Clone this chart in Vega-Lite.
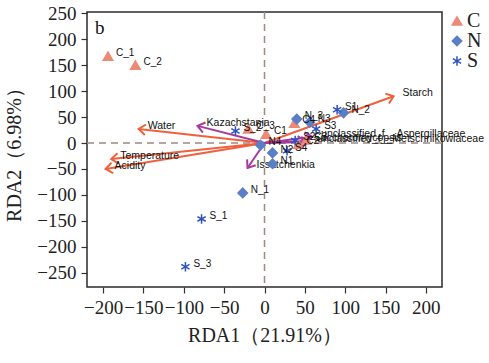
{
  "$schema": "https://vega.github.io/schema/vega-lite/v6.json",
  "width": 355,
  "height": 275,
  "autosize": {"type": "none"},
  "padding": {"left": 87, "top": 12, "right": 47, "bottom": 76},
  "background": "white",
  "title": {
    "text": "b",
    "anchor": "start",
    "frame": "group",
    "orient": "top",
    "offset": -34,
    "dx": 8,
    "font": "Liberation Serif",
    "fontSize": 19,
    "fontWeight": "normal",
    "color": "#111"
  },
  "datasets": {
    "samples": [
      {"name": "C_1", "group": "C", "x": -194, "y": 167},
      {"name": "C_2", "group": "C", "x": -160, "y": 150},
      {"name": "C_3", "group": "C", "x": -20, "y": 27},
      {"name": "C1", "group": "C", "x": 2, "y": 17},
      {"name": "C4", "group": "C", "x": 37, "y": 38},
      {"name": "C2", "group": "C", "x": 42, "y": -2},
      {"name": "C3", "group": "C", "x": 52, "y": 6},
      {"name": "N_1", "group": "N", "x": -27, "y": -96},
      {"name": "N_2", "group": "N", "x": 98, "y": 58},
      {"name": "N_3", "group": "N", "x": 40, "y": 46},
      {"name": "N3", "group": "N", "x": 56, "y": 40},
      {"name": "N4", "group": "N", "x": -5, "y": -4},
      {"name": "N1", "group": "N", "x": 10, "y": -40},
      {"name": "N2", "group": "N", "x": 10, "y": -19},
      {"name": "S_1", "group": "S", "x": -78, "y": -146},
      {"name": "S_3", "group": "S", "x": -98, "y": -238},
      {"name": "S_2", "group": "S", "x": -36, "y": 23},
      {"name": "S1", "group": "S", "x": 90, "y": 64},
      {"name": "S3", "group": "S", "x": 64, "y": 27},
      {"name": "S4", "group": "S", "x": 28, "y": -15},
      {"name": "S2", "group": "S", "x": 38, "y": 5}
    ],
    "vectors": [
      {"name": "Water", "kind": "env", "x": -156, "y": 27},
      {"name": "Temperature", "kind": "env", "x": -190, "y": -31},
      {"name": "Acidity", "kind": "env", "x": -197, "y": -50},
      {"name": "Starch", "kind": "env", "x": 160, "y": 90},
      {"name": "Kazachstania", "kind": "species", "x": -83, "y": 33},
      {"name": "Issatchenkia", "kind": "species", "x": -21, "y": -48},
      {"name": "unclassified_f__Aspergillaceae", "kind": "species", "x": 59, "y": 12},
      {"name": "Saccharomycopsis", "kind": "species", "x": 50, "y": 4},
      {"name": "unclassified_f__Metschnikowiaceae", "kind": "species", "x": 54, "y": 2}
    ]
  },
  "layer": [
    {
      "data": {"values": [{}]},
      "mark": {"type": "rule", "color": "#9c8a84", "strokeDash": [7, 5], "strokeWidth": 1.5},
      "encoding": {"x": {"datum": 0, "type": "quantitative"}}
    },
    {
      "data": {"values": [{}]},
      "mark": {"type": "rule", "color": "#9c8a84", "strokeDash": [7, 5], "strokeWidth": 1.5},
      "encoding": {"y": {"datum": 0, "type": "quantitative"}}
    },
    {
      "data": {"name": "vectors"},
      "transform": [{"filter": "datum.kind == 'env'"}],
      "mark": {"type": "rule", "strokeWidth": 2, "color": "#f0603c"},
      "encoding": {
        "x": {"field": "x", "type": "quantitative"},
        "y": {"field": "y", "type": "quantitative"},
        "x2": {"datum": 0},
        "y2": {"datum": 0}
      }
    },
    {
      "data": {"name": "vectors"},
      "transform": [{"filter": "datum.kind == 'species'"}],
      "mark": {"type": "rule", "strokeWidth": 2, "color": "#a63a9e"},
      "encoding": {
        "x": {"field": "x", "type": "quantitative"},
        "y": {"field": "y", "type": "quantitative"},
        "x2": {"datum": 0},
        "y2": {"datum": 0}
      }
    },
    {
      "data": {"name": "vectors"},
      "transform": [
        {"filter": "datum.kind == 'env'"},
        {"calculate": "atan2(datum.x*0.807, datum.y*0.52)*180/PI", "as": "ang"}
      ],
      "mark": {"type": "point", "shape": "M-0.65,0.85L0,0L0.65,0.85", "filled": false, "strokeWidth": 2, "size": 260, "stroke": "#f0603c", "opacity": 1},
      "encoding": {
        "x": {"field": "x", "type": "quantitative"},
        "y": {"field": "y", "type": "quantitative"},
        "angle": {"field": "ang", "type": "quantitative", "scale": null}
      }
    },
    {
      "data": {"name": "vectors"},
      "transform": [
        {"filter": "datum.kind == 'species'"},
        {"calculate": "atan2(datum.x*0.807, datum.y*0.52)*180/PI", "as": "ang"}
      ],
      "mark": {"type": "point", "shape": "M-0.65,0.85L0,0L0.65,0.85", "filled": false, "strokeWidth": 2, "size": 260, "stroke": "#a63a9e", "opacity": 1},
      "encoding": {
        "x": {"field": "x", "type": "quantitative"},
        "y": {"field": "y", "type": "quantitative"},
        "angle": {"field": "ang", "type": "quantitative", "scale": null}
      }
    },
    {
      "data": {"name": "vectors"},
      "mark": {"type": "text", "font": "Liberation Sans", "fontSize": 10.5, "align": "left", "baseline": "middle", "dx": 9, "dy": -3, "color": "#111"},
      "encoding": {
        "x": {"field": "x", "type": "quantitative"},
        "y": {"field": "y", "type": "quantitative"},
        "text": {"field": "name"}
      }
    },
    {
      "data": {"name": "samples"},
      "mark": {"type": "point", "filled": true, "opacity": 1, "strokeWidth": 1.5, "size": 90},
      "encoding": {
        "x": {
          "field": "x", "type": "quantitative",
          "scale": {"domain": [-220, 220], "nice": false, "zero": false},
          "axis": {"title": "RDA1（21.91%）", "values": [-200, -150, -100, -50, 0, 50, 100, 150, 200], "tickCount": 9}
        },
        "y": {
          "field": "y", "type": "quantitative",
          "scale": {"domain": [-277, 252], "nice": false, "zero": false},
          "axis": {"title": "RDA2（6.98%）", "values": [-250, -200, -150, -100, -50, 0, 50, 100, 150, 200, 250], "tickCount": 11}
        },
        "shape": {"field": "group", "type": "nominal", "scale": {"domain": ["C", "N", "S"], "range": ["triangle-up", "diamond", "M0,-1L0,1M-0.87,-0.5L0.87,0.5M-0.87,0.5L0.87,-0.5"]}},
        "color": {"field": "group", "type": "nominal", "scale": {"domain": ["C", "N", "S"], "range": ["#ec8a77", "#5a7fc6", "#2f52bf"]}},
        "stroke": {"field": "group", "type": "nominal", "scale": {"domain": ["C", "N", "S"], "range": ["#ec8a77", "#5a7fc6", "#2f52bf"]}}
      }
    },
    {
      "data": {"name": "samples"},
      "mark": {"type": "text", "font": "Liberation Sans", "fontSize": 10, "align": "left", "baseline": "middle", "dx": 8, "dy": -3, "color": "#111"},
      "encoding": {
        "x": {"field": "x", "type": "quantitative"},
        "y": {"field": "y", "type": "quantitative"},
        "text": {"field": "name"}
      }
    }
  ],
  "config": {
    "view": {"stroke": "#2b2b2b", "strokeWidth": 1.5},
    "font": "Liberation Serif",
    "axis": {
      "domain": false, "grid": false, "tickSize": 6, "tickColor": "#333", "tickWidth": 1.2,
      "labelFont": "Liberation Serif", "labelFontSize": 19, "labelColor": "#222", "labelPadding": 5,
      "labelFlush": false, "labelOverlap": false,
      "titleFont": "Liberation Serif", "titleFontSize": 20, "titleFontWeight": "normal", "titleColor": "#222"
    },
    "axisX": {"titlePadding": 8},
    "axisY": {"titlePadding": 12},
    "legend": {
      "orient": "none",
      "legendX": 360,
      "legendY": -1,
      "title": null,
      "labelFont": "Liberation Serif",
      "labelFontSize": 20,
      "labelColor": "#222",
      "symbolSize": 90,
      "symbolStrokeWidth": 1.5,
      "rowPadding": -3,
      "labelOffset": 0,
      "padding": 0
    }
  }
}
